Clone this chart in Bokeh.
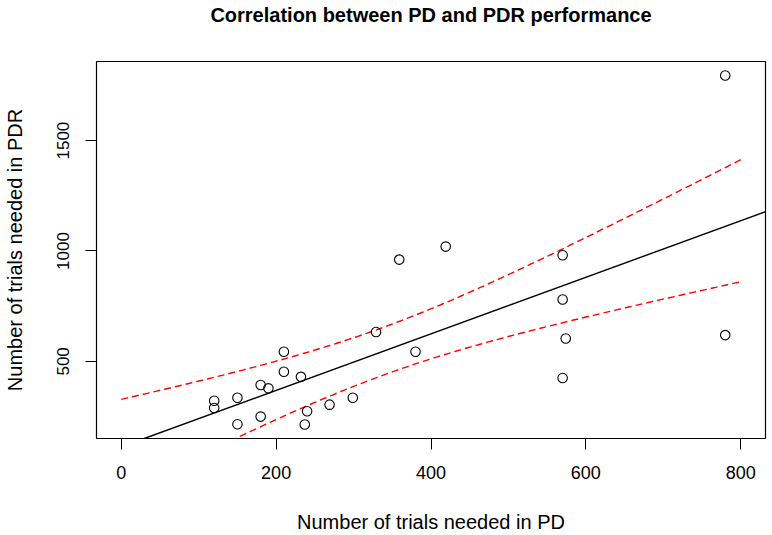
import numpy as np
from bokeh.plotting import figure
from bokeh.models import Range1d, Slope, FixedTicker, LinearAxis
from bokeh.embed import file_html
from bokeh.resources import INLINE

# Data (PD trials vs PDR trials)
pd_trials = [120, 120, 150, 150, 180, 190, 180, 210, 210, 232, 237, 240,
             269, 299, 329, 359, 380, 419, 570, 570, 574, 570, 780, 780]
pdr_trials = [322, 289, 335, 215, 393, 378, 250, 544, 453, 430, 214, 274,
              304, 335, 633, 961, 544, 1020, 981, 780, 604, 425, 619, 1795]
x_ticks = [0, 200, 400, 600, 800]
y_ticks = [500, 1000, 1500]
x_limits = [0, 800]
t_crit = 2.074  # t(0.975, df=22)

title_text = "Correlation between PD and PDR performance"
x_label = "Number of trials needed in PD"
y_label = "Number of trials needed in PDR"

x = np.array(pd_trials, dtype=float)
y = np.array(pdr_trials, dtype=float)
n = len(x)
slope, intercept = np.polyfit(x, y, 1)
resid = y - (intercept + slope * x)
s = np.sqrt(np.sum(resid ** 2) / (n - 2))
sxx = np.sum((x - x.mean()) ** 2)
xg = np.linspace(x_limits[0], x_limits[1], 200)
fit = intercept + slope * xg
half = t_crit * s * np.sqrt(1.0 / n + (xg - x.mean()) ** 2 / sxx)

def r_range(lo, hi):
    d = (hi - lo) * 0.04
    return lo - d, hi + d

xr = r_range(*x_limits)
yr = r_range(y.min(), y.max())

FONT = "Liberation Sans"

p = figure(width=772, height=535, output_backend="svg", toolbar_location=None,
           x_range=Range1d(*xr), y_range=Range1d(*yr),
           min_border_left=96, min_border_right=7, min_border_top=60,
           min_border_bottom=96)

p.grid.visible = False
p.outline_line_color = "black"
p.outline_line_width = 1.2
p.outline_line_alpha = 1.0

bottom_axis = p.below[0]
left_axis = p.left[0]

for ax in (bottom_axis, left_axis):
    ax.axis_line_color = None
    ax.major_tick_line_color = "black"
    ax.major_tick_out = 11
    ax.major_tick_in = 0
    ax.minor_tick_line_color = None
    ax.major_label_text_font = FONT
    ax.major_label_text_color = "black"
    ax.axis_label_text_font = FONT
    ax.axis_label_text_font_style = "normal"
    ax.axis_label_text_color = "black"
    ax.axis_label_text_font_size = "20px"

bottom_axis.ticker = FixedTicker(ticks=x_ticks)
left_axis.ticker = FixedTicker(ticks=y_ticks)
bottom_axis.major_label_text_font_size = "18px"
left_axis.major_label_text_font_size = "17px"
left_axis.major_label_orientation = "vertical"
bottom_axis.major_label_standoff = 16
left_axis.major_label_standoff = 16
bottom_axis.axis_label = x_label
left_axis.axis_label = y_label
bottom_axis.axis_label_standoff = 29
left_axis.axis_label_standoff = 29

# Title drawn as the label of a bare axis above the frame
top_axis = LinearAxis(ticker=FixedTicker(ticks=[]), axis_line_color=None,
                      major_tick_line_color=None, minor_tick_line_color=None,
                      major_tick_out=0, major_tick_in=0, major_label_standoff=0,
                      axis_label=title_text, axis_label_standoff=36,
                      axis_label_text_font=FONT, axis_label_text_font_size="20px",
                      axis_label_text_font_style="bold",
                      axis_label_text_color="black")
p.add_layout(top_axis, "above")

p.add_layout(Slope(gradient=slope, y_intercept=intercept,
                   line_color="black", line_width=1.4))

p.line(xg, fit + half, line_color="red", line_dash="7 4", line_width=1.4)
p.line(xg, fit - half, line_color="red", line_dash="7 4", line_width=1.4)

p.scatter(pd_trials, pdr_trials, marker="circle", size=9.5,
          fill_color=None, line_color="black", line_width=1.1)

open("out.html", "w").write(file_html(p, INLINE))
